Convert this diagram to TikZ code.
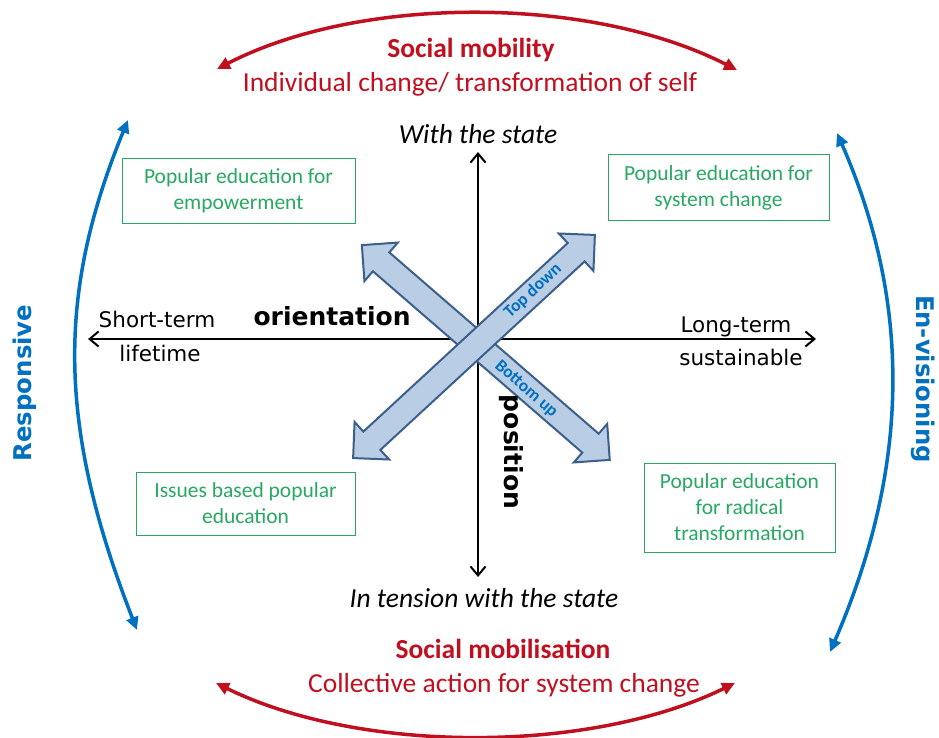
\documentclass[tikz,border=0pt]{standalone}
\usepackage{fontspec}
\setmainfont{Carlito}
\newfontfamily\verdfont{DejaVu Sans}
\usetikzlibrary{arrows.meta,shapes.arrows}
\definecolor{mobred}{RGB}{192,16,32}
\definecolor{visblue}{RGB}{0,112,192}
\definecolor{edugreen}{RGB}{40,168,98}
\definecolor{blockfill}{RGB}{185,205,228}
\definecolor{blockedge}{RGB}{60,95,140}
\tikzset{edubox/.style={draw=edugreen,line width=1pt,text=edugreen,align=center,
  inner sep=0pt,font=\fontsize{21.5}{26}\selectfont}}
\tikzset{blockarrow/.style={double arrow,draw=blockedge,fill=blockfill,line width=2pt,
  inner xsep=0pt,inner ysep=11.5pt,double arrow head extend=13,double arrow tip angle=90}}
\tikzset{axisline/.style={line width=2pt,
  {Straight Barb[length=9pt,width=15pt]}-{Straight Barb[length=9pt,width=15pt]}}}
\tikzset{sidearc/.style={line width=3.5pt,
  {Triangle[length=13pt,width=12pt]}-{Triangle[length=13pt,width=12pt]}}}

\begin{document}
\begin{tikzpicture}[x=1pt,y=-1pt]
  \fill[white] (0,0) rectangle (939,738);
  \useasboundingbox (0,0) rectangle (939,738);

  \coordinate (mobL) at (217,69);
  \coordinate (mobR) at (737,70);
  \coordinate (milL) at (216,683);
  \coordinate (milR) at (735,683);
  \coordinate (resT) at (128,120);
  \coordinate (resB) at (137,630);
  \coordinate (envT) at (837,133);
  \coordinate (envB) at (830,652);
  \coordinate (stateT) at (478,152);
  \coordinate (stateB) at (478,577);
  \coordinate (termL) at (88,339);
  \coordinate (termR) at (816,339);

  % outer arcs
  \draw[sidearc,mobred] (mobL) .. controls (360,-5) and (590,-5) .. (mobR);
  \draw[sidearc,mobred] (milL) .. controls (360,754) and (590,754) .. (milR);
  \draw[sidearc,visblue] (resT) .. controls (57,293) and (57,425) .. (resB);
  \draw[sidearc,visblue] (envT) .. controls (911,302) and (911,465) .. (envB);

  % axes
  \draw[axisline] (stateT) -- (stateB);
  \draw[axisline] (termL) -- (termR);

  % crossed block arrows
  \node[blockarrow,minimum height=328,rotate=-40.9] (bottomup) at (485.8,352.5) {};
  \node[blockarrow,minimum height=329,rotate=42.7] (topdown) at (474,346.5) {};
  \node[visblue,rotate=42.7,font=\fontsize{17.5}{20}\selectfont\bfseries] (tdlabel) at (533,291) {Top down};
  \node[visblue,rotate=-40.9,font=\fontsize{17.5}{20}\selectfont\bfseries] (bulabel) at (526,389) {Bottom up};

  \node[edubox,minimum width=233,minimum height=64] (empower) at (238.5,191)
    {Popular education for\\empowerment};
  \node[edubox,minimum width=221,minimum height=65] (sysch) at (718.5,187.5)
    {Popular education for\\system change};
  \node[edubox,minimum width=219,minimum height=63] (issues) at (245.5,503.5)
    {Issues based popular\\education};
  \node[edubox,minimum width=191,minimum height=89] (radical) at (739.5,507.5)
    {Popular education\\for radical\\transformation};

  \node[mobred,anchor=base,font=\fontsize{27.5}{30}\selectfont\bfseries] (mobility) at (471,58) {Social mobility};
  \node[mobred,anchor=base,font=\fontsize{27.5}{30}\selectfont] (indiv) at (470,92) {Individual change/ transformation of self};
  \node[mobred,anchor=base,font=\fontsize{27.5}{30}\selectfont\bfseries] (mobilis) at (503,658) {Social mobilisation};
  \node[mobred,anchor=base,font=\fontsize{27.5}{30}\selectfont] (collect) at (504,692) {Collective action for system change};

  \node[anchor=base,font=\fontsize{27.5}{30}\selectfont\itshape] (withst) at (478,144) {With the state};
  \node[anchor=base,font=\fontsize{27.5}{30}\selectfont\itshape] (tension) at (484,607) {In tension with the state};

  \node[anchor=base,font=\verdfont\fontsize{21.5}{24}\selectfont] (shortt) at (157,327) {Short-term};
  \node[anchor=base,font=\verdfont\fontsize{21.5}{24}\selectfont] (lifet) at (160,361) {lifetime};
  \node[anchor=base,font=\verdfont\fontsize{21.5}{24}\selectfont] (longt) at (736,332) {Long-term};
  \node[anchor=base,font=\verdfont\fontsize{21.5}{24}\selectfont] (sustain) at (741,365) {sustainable};
  \node[anchor=base west,font=\verdfont\fontsize{25}{28}\selectfont\bfseries] (orient) at (250,325) {orientation};
  \node[rotate=-90,font=\verdfont\fontsize{25}{28}\selectfont\bfseries] (posn) at (511,452) {position};

  \node[visblue,rotate=90,font=\verdfont\fontsize{24.4}{28}\selectfont\bfseries] (respons) at (25,383) {Responsive};
  \node[visblue,rotate=-90,font=\verdfont\fontsize{24.3}{28}\selectfont\bfseries] (envis) at (923,379) {En-visioning};
\end{tikzpicture}
\end{document}
